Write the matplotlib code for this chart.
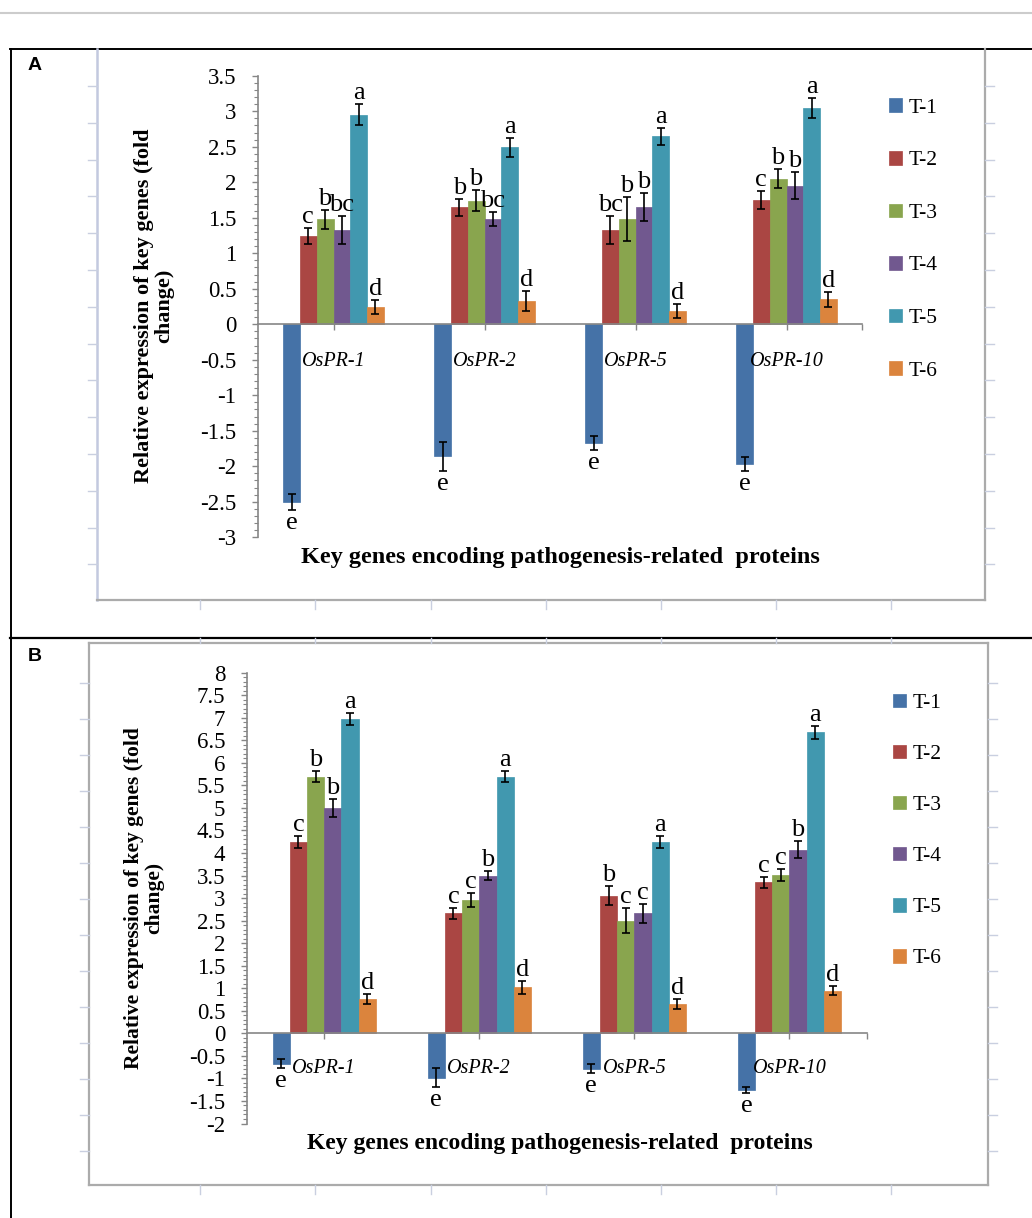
import numpy as np
import matplotlib.pyplot as plt
from matplotlib.lines import Line2D
from matplotlib.ticker import MultipleLocator, FuncFormatter

plt.rcParams['font.family'] = ['Liberation Serif', 'DejaVu Serif']
plt.rcParams['axes.unicode_minus'] = False

genes = ['OsPR-1', 'OsPR-2', 'OsPR-5', 'OsPR-10']
treatments = ['T-1', 'T-2', 'T-3', 'T-4', 'T-5', 'T-6']
colors = ['#4572A7', '#AA4643', '#89A54E', '#71588F', '#4198AF', '#DB843D']

# panel A: rows = treatments, cols = genes
a_vals = [[-2.50, -1.86, -1.67, -1.97],
          [1.24, 1.65, 1.33, 1.75],
          [1.48, 1.74, 1.48, 2.05],
          [1.33, 1.48, 1.65, 1.95],
          [2.95, 2.49, 2.65, 3.04],
          [0.24, 0.33, 0.19, 0.35]]
a_err = [[0.11, 0.20, 0.10, 0.10],
         [0.11, 0.12, 0.20, 0.125],
         [0.135, 0.15, 0.31, 0.13],
         [0.20, 0.10, 0.20, 0.19],
         [0.145, 0.13, 0.12, 0.14],
         [0.10, 0.145, 0.10, 0.10]]
a_letters = [['e', 'e', 'e', 'e'],
             ['c', 'b', 'bc', 'c'],
             ['b', 'b', 'b', 'b'],
             ['bc', 'bc', 'b', 'b'],
             ['a', 'a', 'a', 'a'],
             ['d', 'd', 'd', 'd']]

# panel B
b_vals = [[-0.67, -0.98, -0.78, -1.26],
          [4.25, 2.66, 3.05, 3.35],
          [5.69, 2.96, 2.50, 3.51],
          [4.99, 3.50, 2.66, 4.07],
          [6.98, 5.69, 4.25, 6.68],
          [0.76, 1.02, 0.65, 0.95]]
b_err = [[0.10, 0.21, 0.09, 0.07],
         [0.13, 0.125, 0.21, 0.12],
         [0.125, 0.15, 0.285, 0.14],
         [0.20, 0.10, 0.21, 0.19],
         [0.13, 0.125, 0.13, 0.14],
         [0.11, 0.15, 0.12, 0.11]]
b_letters = [['e', 'e', 'e', 'e'],
             ['c', 'c', 'b', 'c'],
             ['b', 'c', 'c', 'c'],
             ['b', 'b', 'c', 'b'],
             ['a', 'a', 'a', 'a'],
             ['d', 'd', 'd', 'd']]

W, H = 1032, 1218
fig = plt.figure(figsize=(W / 100, H / 100), dpi=100)


def px(x, y):
    return x / W, 1 - y / H


def line(x0, y0, x1, y1, **kw):
    (a, b), (c, d) = px(x0, y0), px(x1, y1)
    fig.add_artist(Line2D([a, c], [b, d], transform=fig.transFigure, **kw))


# page decoration: top rule, black panel boxes, grey chart-area frames
line(0, 13, W, 13, color='#cccccc', lw=1.5)
line(10, 49, W, 49, color='black', lw=1.4)
line(11, 49, 11, H, color='black', lw=1.4)
line(10, 637.5, W, 637.5, color='black', lw=1.6)

frame = dict(color='#ababab', lw=1.6)
tick = dict(color='#c9cfe0', lw=1)
col_x = [200, 315, 431, 546, 661, 776, 891]
# A frame
line(97, 49, 97, 600, color='#c3c9df', lw=1.8)
line(97, 600, 985, 600, **frame)
line(985, 49, 985, 600, **frame)
for y in np.arange(86, 600, 36.8):
    line(88, y, 97, y, **tick)
    line(985, y, 994, y, **tick)
for x in col_x:
    line(x, 600, x, 609, **tick)
# B frame
line(89, 643, 988, 643, **frame)
line(89, 643, 89, 1185, **frame)
line(988, 643, 988, 1185, **frame)
line(89, 1185, 988, 1185, **frame)
for y in np.arange(1187, 650, -36)[1:]:
    line(80, y, 89, y, **tick)
    line(988, y, 997, y, **tick)
for x in col_x:
    line(x, 638, x, 643, **tick)
    line(x, 1185, x, 1194, **tick)

fig.text(*px(35, 66), 'A', family='Liberation Sans', weight='bold', fontsize=14,
         ha='center', va='center')
fig.text(*px(35, 657), 'B', family='Liberation Sans', weight='bold', fontsize=14,
         ha='center', va='center')


def panel(rect, vals, errs, letters, ylim, lab_off, ylab, title, leg_xy, leg_sp):
    l, t, r, b = rect
    ax = fig.add_axes([l / W, 1 - b / H, (r - l) / W, (b - t) / H])
    ax.set_facecolor('none')
    w = 1 / 9
    x0 = np.arange(len(genes))
    handles = []
    for i in range(len(treatments)):
        xs = x0 + (i - 2.5) * w
        v = np.array(vals[i])
        e = np.array(errs[i])
        bars = ax.bar(xs, v, width=w, color=colors[i], edgecolor=colors[i], lw=0.5,
                      zorder=2)
        handles.append(bars)
        ax.errorbar(xs, v, yerr=e, fmt='none', ecolor='black', elinewidth=1.2,
                    capsize=3, capthick=1.2, zorder=3)
        for xx, vv, ee, lt in zip(xs, v, e, letters[i]):
            if vv >= 0:
                ax.annotate(lt, (xx, vv + ee), xytext=(0, 5), textcoords='offset pixels',
                            ha='center', va='baseline', fontsize=19)
            else:
                ax.annotate(lt, (xx, vv - ee), xytext=(0, -2), textcoords='offset pixels',
                            ha='center', va='top', fontsize=19)
    for g, name in zip(x0, genes):
        ax.annotate(name, (g, 0), xytext=(0, lab_off), textcoords='offset pixels',
                    ha='center', va='center', fontsize=14.5, style='italic')

    ax.set_xlim(-0.5, 3.5)
    ax.set_ylim(*ylim)
    for s in ['top', 'right']:
        ax.spines[s].set_visible(False)
    ax.spines['left'].set_color('#868686')
    ax.spines['bottom'].set_color('#868686')
    ax.spines['bottom'].set_position(('data', 0))
    ax.spines['left'].set_linewidth(1.2)
    ax.spines['bottom'].set_linewidth(1.2)
    ax.set_xticks([0, 1, 2, 3, 3.5])
    ax.set_xticklabels([])
    ax.tick_params(axis='x', direction='out', length=4, color='#868686', width=1)
    ax.yaxis.set_major_locator(MultipleLocator(0.5))
    ax.yaxis.set_minor_locator(MultipleLocator(0.1))
    ax.yaxis.set_major_formatter(FuncFormatter(lambda v, p: f'{v + 0:g}'))
    ax.tick_params(axis='y', which='major', length=4.5, width=1, color='#868686',
                   labelsize=16.5, pad=11)
    ax.tick_params(axis='y', which='minor', length=3, width=0.8, color='#868686')

    (yx, yy, ys), (ty, ts) = ylab, title
    fig.text(*px(yx, yy), 'Relative expression of key genes (fold\nchange)',
             rotation=90, ha='center', va='center', multialignment='center',
             fontsize=ys, weight='bold', linespacing=1.05)
    fig.text(*px(560, ty), 'Key genes encoding pathogenesis-related  proteins',
             ha='center', va='center', fontsize=ts, weight='bold')
    fig.legend(handles, treatments, loc='center left', bbox_to_anchor=px(*leg_xy),
               frameon=False, fontsize=15.5, borderpad=0, borderaxespad=0,
               handlelength=0.6, handleheight=0.6, handletextpad=0.3,
               labelspacing=leg_sp)
    return ax


panel((258, 75.7, 862, 537.3), a_vals, a_err, a_letters, (-3, 3.5), -37,
      (154, 306, 16), (557, 17.5), (889, 239.5), 1.54)
panel((246.7, 672.7, 867, 1123.5), b_vals, b_err, b_letters, (-2, 8), -35,
      (144, 898, 15.5), (1143, 17), (893, 831), 1.47)

fig.savefig('out.png', dpi=100)
